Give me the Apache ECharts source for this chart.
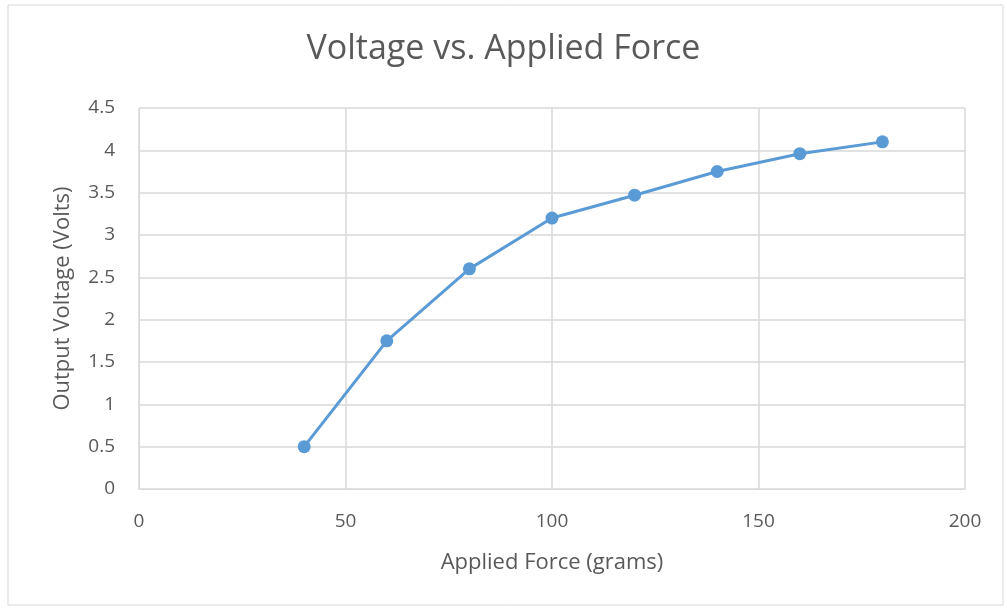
<!DOCTYPE html>
<html>
<head>
<meta charset="utf-8">
<script src="https://cdn.jsdelivr.net/npm/echarts@6/dist/echarts.min.js"></script>
<style>
  html, body { margin: 0; padding: 0; background: #ffffff; }
  #chart { width: 1007px; height: 611px; }
</style>
</head>
<body>
<div id="chart"></div>
<script>
// Applied force (grams) and measured output voltage (volts)
const forceGrams = [40, 60, 80, 100, 120, 140, 160, 180];
const outputVolts = [0.5, 1.75, 2.6, 3.2, 3.47, 3.75, 3.96, 4.1];

const xTicks = { min: 0, max: 200, interval: 50 };
const yTicks = { min: 0, max: 4.5, interval: 0.5 };

const points = forceGrams.map((f, i) => [f, outputVolts[i]]);

const textColor = '#595959';
const gridColor = '#d9d9d9';
const fontFamily = '"Open Sans", "Liberation Sans", sans-serif';

const chart = echarts.init(document.getElementById('chart'), null, { renderer: 'canvas' });
chart.setOption({
  backgroundColor: '#ffffff',
  animation: false,
  title: {
    text: 'Voltage vs. Applied Force',
    left: 'center',
    top: 27,
    textStyle: { color: textColor, fontFamily, fontSize: 34, fontWeight: 'normal' }
  },
  graphic: [{
    type: 'rect',
    shape: { x: 8, y: 5, width: 995, height: 600 },
    style: { fill: 'none', stroke: '#d9d9d9', lineWidth: 1 },
    silent: true
  }],
  grid: { left: 139, right: 42, top: 108, bottom: 122, containLabel: false },
  xAxis: {
    type: 'value',
    min: xTicks.min, max: xTicks.max, interval: xTicks.interval,
    name: 'Applied Force (grams)',
    nameLocation: 'middle',
    nameGap: 63,
    nameTextStyle: { color: textColor, fontFamily, fontSize: 22 },
    axisLine: { show: true, lineStyle: { color: gridColor, width: 1 } },
    axisTick: { show: false },
    axisLabel: { color: textColor, fontFamily, fontSize: 19, margin: 23 },
    splitLine: { show: true, lineStyle: { color: gridColor, width: 1.5 } }
  },
  yAxis: {
    type: 'value',
    min: yTicks.min, max: yTicks.max, interval: yTicks.interval,
    name: 'Output Voltage (Volts)',
    nameLocation: 'middle',
    nameGap: 65,
    nameTextStyle: { color: textColor, fontFamily, fontSize: 22 },
    axisLine: { show: true, lineStyle: { color: gridColor, width: 1 } },
    axisTick: { show: false },
    axisLabel: { color: textColor, fontFamily, fontSize: 19, margin: 24 },
    splitLine: { show: true, lineStyle: { color: gridColor, width: 1.5 } }
  },
  series: [{
    type: 'line',
    data: points,
    symbol: 'circle',
    symbolSize: 13,
    lineStyle: { color: '#5b9bd5', width: 3 },
    itemStyle: { color: '#5b9bd5' }
  }]
});
</script>
</body>
</html>
